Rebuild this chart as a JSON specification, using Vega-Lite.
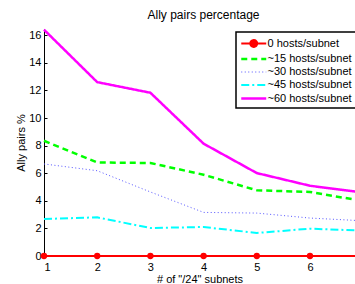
{
  "$schema": "https://vega.github.io/schema/vega-lite/v6.json",
  "width": 311,
  "height": 227,
  "autosize": {"type": "none"},
  "padding": {"left": 44, "top": 29, "right": 0, "bottom": 28},
  "background": "white",
  "title": {"text": "Ally pairs percentage", "fontSize": 12, "fontWeight": "normal", "font": "Liberation Sans", "color": "black", "baseline": "alphabetic", "offset": 10, "dx": 4, "dy": 16},
  "data": {"values": [
    {"x": 1, "v": 0, "s": "0 hosts/subnet"},
    {"x": 2, "v": 0, "s": "0 hosts/subnet"},
    {"x": 3, "v": 0, "s": "0 hosts/subnet"},
    {"x": 4, "v": 0, "s": "0 hosts/subnet"},
    {"x": 5, "v": 0, "s": "0 hosts/subnet"},
    {"x": 6, "v": 0, "s": "0 hosts/subnet"},
    {"x": 7, "v": 0, "s": "0 hosts/subnet"},
    {"x": 1, "v": 8.35, "s": "~15 hosts/subnet"},
    {"x": 2, "v": 6.78, "s": "~15 hosts/subnet"},
    {"x": 3, "v": 6.74, "s": "~15 hosts/subnet"},
    {"x": 4, "v": 5.89, "s": "~15 hosts/subnet"},
    {"x": 5, "v": 4.76, "s": "~15 hosts/subnet"},
    {"x": 6, "v": 4.64, "s": "~15 hosts/subnet"},
    {"x": 7, "v": 3.98, "s": "~15 hosts/subnet"},
    {"x": 1, "v": 6.67, "s": "~30 hosts/subnet"},
    {"x": 2, "v": 6.18, "s": "~30 hosts/subnet"},
    {"x": 3, "v": 4.64, "s": "~30 hosts/subnet"},
    {"x": 4, "v": 3.16, "s": "~30 hosts/subnet"},
    {"x": 5, "v": 3.11, "s": "~30 hosts/subnet"},
    {"x": 6, "v": 2.75, "s": "~30 hosts/subnet"},
    {"x": 7, "v": 2.55, "s": "~30 hosts/subnet"},
    {"x": 1, "v": 2.68, "s": "~45 hosts/subnet"},
    {"x": 2, "v": 2.8, "s": "~45 hosts/subnet"},
    {"x": 3, "v": 2.03, "s": "~45 hosts/subnet"},
    {"x": 4, "v": 2.1, "s": "~45 hosts/subnet"},
    {"x": 5, "v": 1.67, "s": "~45 hosts/subnet"},
    {"x": 6, "v": 1.98, "s": "~45 hosts/subnet"},
    {"x": 7, "v": 1.84, "s": "~45 hosts/subnet"},
    {"x": 1, "v": 16.4, "s": "~60 hosts/subnet"},
    {"x": 2, "v": 12.6, "s": "~60 hosts/subnet"},
    {"x": 3, "v": 11.83, "s": "~60 hosts/subnet"},
    {"x": 4, "v": 8.14, "s": "~60 hosts/subnet"},
    {"x": 5, "v": 6.01, "s": "~60 hosts/subnet"},
    {"x": 6, "v": 5.09, "s": "~60 hosts/subnet"},
    {"x": 7, "v": 4.6, "s": "~60 hosts/subnet"}
  ]},
  "encoding": {
    "x": {"field": "x", "type": "quantitative", "scale": {"domain": [1, 6.846], "nice": false, "zero": false},
      "axis": {"values": [1, 2, 3, 4, 5, 6], "format": "d", "title": "# of \"/24\" subnets", "titlePadding": 1, "labelPadding": 8}},
    "y": {"field": "v", "type": "quantitative", "scale": {"domain": [0, 16.45], "nice": false},
      "axis": {"values": [0, 2, 4, 6, 8, 10, 12, 14, 16], "title": "Ally pairs %", "titlePadding": 2}}
  },
  "layer": [
    {
      "mark": {"type": "line"},
      "encoding": {
        "color": {"field": "s", "type": "nominal",
          "scale": {"domain": ["0 hosts/subnet", "~15 hosts/subnet", "~30 hosts/subnet", "~45 hosts/subnet", "~60 hosts/subnet"],
                    "range": ["#ff0000", "#00ff00", "#5555ff", "#00ffff", "#ff00ff"]},
          "legend": {"title": null, "orient": "none", "legendX": 192, "legendY": 3,
            "strokeColor": "black", "fillColor": "white", "padding": 4,
            "symbolType": "M-1,0H3", "symbolSize": 156, "labelOffset": 12.5,
            "labelFontSize": 11, "labelFont": "Liberation Sans", "labelColor": "black", "rowPadding": 0.5,
            "encode": {
              "legend": {"update": {"strokeWidth": {"value": 1.5}}},
              "symbols": {"update": {
                "shape": {"signal": "datum.value === '0 hosts/subnet' ? 'M-1,0H3M1.55,0A0.55,0.55,0,1,1,0.45,0A0.55,0.55,0,1,1,1.55,0Z' : 'M-1,0H3'"},
                "fill": {"signal": "datum.value === '0 hosts/subnet' ? '#ff0000' : 'transparent'"}
              }}
            }}
        },
        "strokeDash": {"field": "s", "type": "nominal",
          "scale": {"domain": ["0 hosts/subnet", "~15 hosts/subnet", "~30 hosts/subnet", "~45 hosts/subnet", "~60 hosts/subnet"],
                    "range": [[1, 0], [6, 4], [1, 2.5], [8, 3, 2, 3], [1, 0]]},
          "legend": {"title": null}},
        "strokeWidth": {"field": "s", "type": "nominal",
          "scale": {"type": "ordinal", "domain": ["0 hosts/subnet", "~15 hosts/subnet", "~30 hosts/subnet", "~45 hosts/subnet", "~60 hosts/subnet"],
                    "range": [2, 2.5, 1, 2, 2.5]},
          "legend": {"title": null}}
      }
    },
    {
      "transform": [{"filter": "datum.s === '0 hosts/subnet' && datum.x <= 6"}],
      "mark": {"type": "point", "filled": true, "size": 40, "color": "#ff0000", "opacity": 1}
    }
  ],
  "config": {
    "view": {"stroke": null},
    "font": "Liberation Sans",
    "axis": {"grid": false, "domainColor": "black", "tickColor": "black", "labelColor": "black", "titleColor": "black",
      "labelFontSize": 11, "titleFontSize": 11, "titleFontWeight": "normal", "labelFont": "Liberation Sans", "titleFont": "Liberation Sans",
      "tickSize": -3, "labelPadding": 6}
  }
}
